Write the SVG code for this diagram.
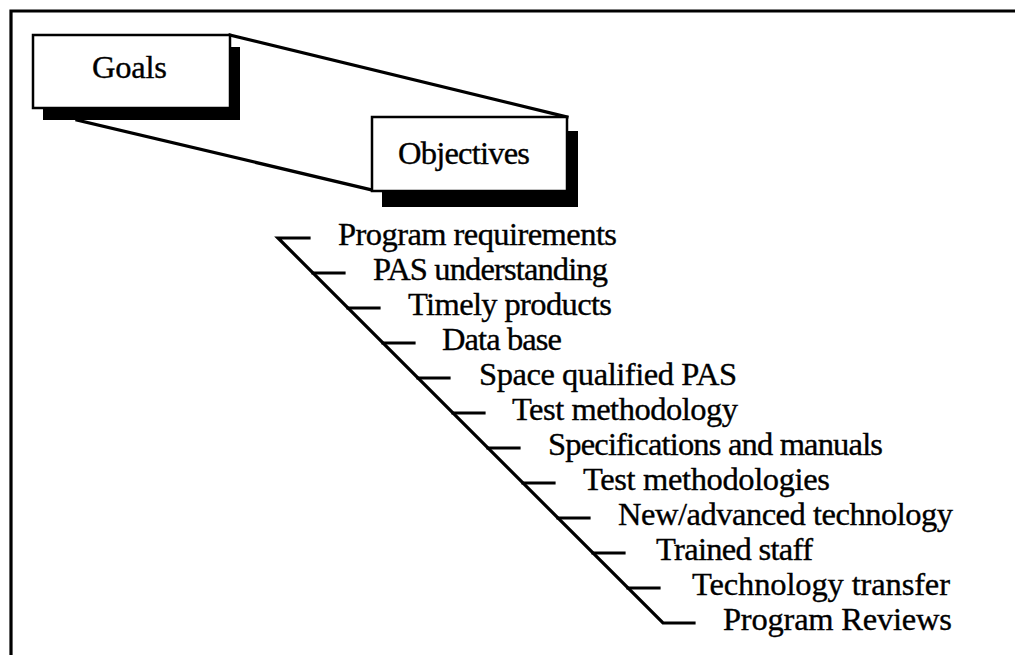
<svg xmlns="http://www.w3.org/2000/svg" width="1015" height="655" viewBox="0 0 1015 655">
  <style>
    .t { font-family: "Liberation Serif", "Times New Roman", serif; font-size: 32.5px; fill: #000; stroke: #000; stroke-width: 0.35; }
    .box { fill: #fff; stroke: #000; stroke-width: 2.5; }
    .shadow { fill: #000; stroke: none; }
    .ln { stroke: #000; stroke-width: 3.2; fill: none; stroke-linecap: square; }
  </style>
  <rect x="0" y="0" width="1015" height="655" fill="#fff"/>
  <g id="frame">
    <path class="ln" d="M11,655 L11,11 L1015,11"/>
  </g>
  <g id="connectors">
    <line class="ln" x1="230" y1="35" x2="567" y2="117"/>
    <line class="ln" x1="77" y1="120" x2="372" y2="190"/>
  </g>
  <g id="goals">
    <rect class="shadow" x="43" y="47" width="197" height="73"/>
    <rect class="box" x="33" y="35" width="197" height="73"/>
    <text class="t" x="92" y="78" textLength="75">Goals</text>
  </g>
  <g id="objectives">
    <rect class="shadow" x="382" y="131" width="196" height="76"/>
    <rect class="box" x="372" y="117" width="195" height="74"/>
    <text class="t" x="398" y="164" textLength="132">Objectives</text>
  </g>
  <g id="objective-list">
    <path class="ln" d="M309,238 L278,238 L663,623 L694,623"/>
    <path class="ln" d="M313,273 h31 M348,308 h31 M383,343 h31 M418,378 h31 M453,413 h31 M488,448 h31 M523,483 h31 M558,518 h31 M593,553 h31 M628,588 h31"/>
    <text class="t" x="338" y="245" textLength="279">Program requirements</text>
    <text class="t" x="373" y="280" textLength="235">PAS understanding</text>
    <text class="t" x="408" y="315" textLength="204">Timely products</text>
    <text class="t" x="442" y="350" textLength="120">Data base</text>
    <text class="t" x="479" y="385" textLength="258">Space qualified PAS</text>
    <text class="t" x="512" y="420" textLength="226">Test methodology</text>
    <text class="t" x="548" y="455" textLength="335">Specifications and manuals</text>
    <text class="t" x="583" y="490" textLength="247">Test methodologies</text>
    <text class="t" x="618" y="525" textLength="335">New/advanced technology</text>
    <text class="t" x="656" y="560" textLength="157">Trained staff</text>
    <text class="t" x="692" y="595" textLength="258">Technology transfer</text>
    <text class="t" x="723" y="630" textLength="229">Program Reviews</text>
  </g>
</svg>
